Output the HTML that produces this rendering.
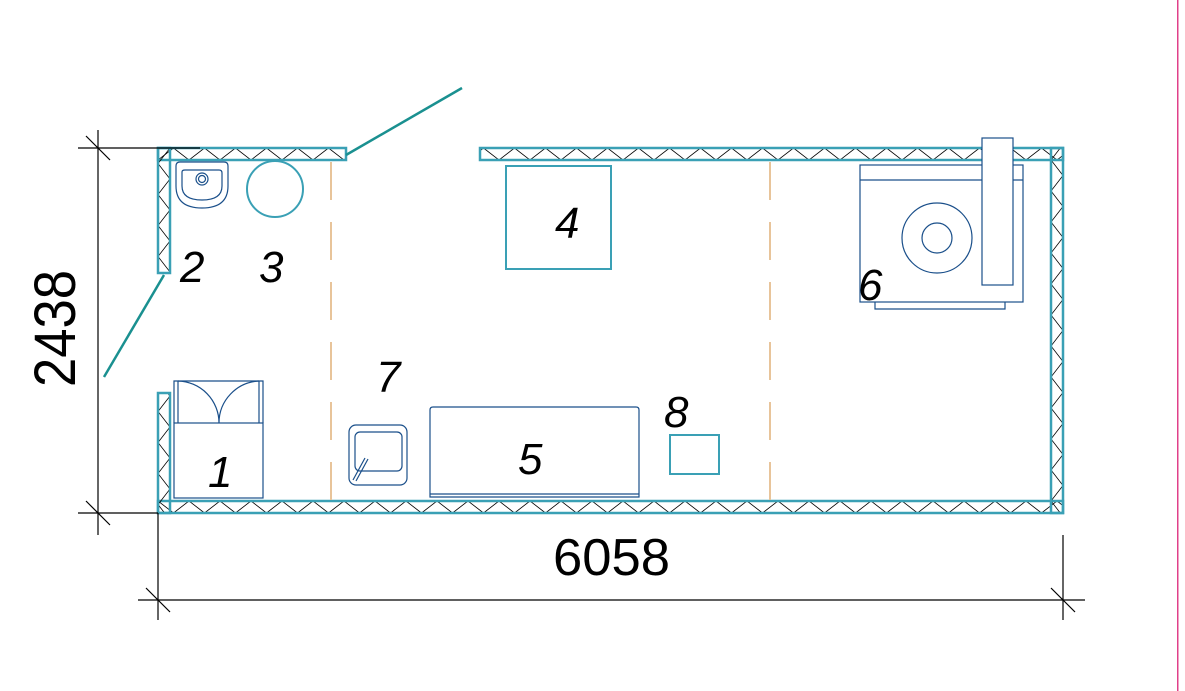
<!DOCTYPE html>
<html><head><meta charset="utf-8"><style>html,body{margin:0;padding:0;background:#fff}svg{display:block}</style></head>
<body>
<svg width="1185" height="691" viewBox="0 0 1185 691" xmlns="http://www.w3.org/2000/svg">
<defs>
<pattern id="zt" x="158" y="148" width="31" height="12" patternUnits="userSpaceOnUse">
<path d="M0 12 L15.5 0 L31 12" fill="none" stroke="#000" stroke-width="0.8"/></pattern>
<pattern id="zb" x="158" y="501" width="31" height="12" patternUnits="userSpaceOnUse">
<path d="M0 0 L15.5 12 L31 0" fill="none" stroke="#000" stroke-width="0.8"/></pattern>
<pattern id="zl" x="158" y="148" width="12" height="31" patternUnits="userSpaceOnUse">
<path d="M12 0 L0 15.5 L12 31" fill="none" stroke="#000" stroke-width="0.8"/></pattern>
<pattern id="zr" x="1051" y="160" width="12" height="31" patternUnits="userSpaceOnUse">
<path d="M0 0 L12 15.5 L0 31" fill="none" stroke="#000" stroke-width="0.8"/></pattern>
</defs>
<rect x="1177" y="0" width="1.5" height="691" fill="#e0408a"/>
<!-- walls -->
<g stroke="#3aa0b5" stroke-width="2.5">
<rect x="158" y="148" width="188" height="12" fill="url(#zt)"/>
<rect x="480" y="148" width="583" height="12" fill="url(#zt)"/>
<rect x="158" y="501" width="905" height="12" fill="url(#zb)"/>
<rect x="158" y="148" width="12" height="125" fill="url(#zl)"/>
<rect x="158" y="393" width="12" height="120" fill="url(#zl)"/>
<rect x="1051" y="148" width="12" height="365" fill="url(#zr)"/>
</g>
<g stroke="#1a9090" stroke-width="2.5">
<line x1="346" y1="155" x2="462" y2="88"/>
<line x1="164" y1="275" x2="104" y2="377"/>
</g>
<!-- dashed -->
<g stroke="#e8c49a" stroke-width="2" stroke-dasharray="38,22">
<line x1="331" y1="162" x2="331" y2="500"/>
<line x1="770" y1="162" x2="770" y2="500"/>
</g>
<!-- dims -->
<g stroke="#000" stroke-width="1.2" fill="none">
<line x1="98" y1="130" x2="98" y2="535"/>
<line x1="78" y1="148" x2="200" y2="148"/>
<line x1="78" y1="513" x2="158" y2="513"/>
<line x1="86" y1="136" x2="110" y2="160"/>
<line x1="86" y1="501" x2="110" y2="525"/>
<line x1="138" y1="600" x2="1085" y2="600"/>
<line x1="158" y1="513" x2="158" y2="620"/>
<line x1="1063" y1="535" x2="1063" y2="620"/>
<line x1="146" y1="588" x2="170" y2="612"/>
<line x1="1051" y1="588" x2="1075" y2="612"/>
</g>
<text x="0" y="0" transform="translate(75,387) rotate(-90)" font-family="Liberation Sans, sans-serif" font-size="58" textLength="117" lengthAdjust="spacingAndGlyphs">2438</text>
<text x="553" y="575" font-family="Liberation Sans, sans-serif" font-size="52" textLength="117" lengthAdjust="spacingAndGlyphs">6058</text>
<!-- furniture -->
<g fill="none" stroke="#1a4f8a" stroke-width="1.2">
<path d="M176 166 Q176 162 180 162 L224 162 Q228 162 228 166 L228 186 Q228 208 202 208 Q176 208 176 186 Z"/>
<path d="M182 172 Q182 170 185 170 L219 170 Q222 170 222 173 L222 186 Q222 200 202 200 Q182 200 182 186 Z"/>
<circle cx="202" cy="179" r="6"/><circle cx="202" cy="179" r="3.5"/>
<rect x="174" y="423" width="89" height="75"/>
<path d="M174 423 V381 H263 V423 M178 381 V423 M259 381 V423"/>
<path d="M178 381 A42 42 0 0 1 219 423 M259 381 A42 42 0 0 0 219 423"/>
<rect x="349" y="425" width="58" height="60" rx="7"/>
<rect x="355" y="432" width="47" height="39" rx="5"/>
<path d="M353 480 L365 458 M356 481 L368 459"/>
<path d="M430 497 V410 Q430 407 433 407 L636 407 Q639 407 639 410 V497 Z M430 494 H639"/>
<rect x="860" y="165" width="163" height="137"/>
<line x1="860" y1="180" x2="1023" y2="180"/>
<circle cx="937" cy="238" r="35"/><circle cx="937" cy="238" r="15"/>
<rect x="982" y="138" width="31" height="147" fill="#fff"/>
<path d="M875 302 V309 H1005 V302"/>
</g>
<g fill="none" stroke="#3aa0b5" stroke-width="2">
<circle cx="275" cy="189" r="28"/>
<rect x="506" y="166" width="105" height="103"/>
<rect x="670" y="435" width="49" height="39"/>
</g>
<g font-family="Liberation Sans, sans-serif" font-style="italic" font-size="44" fill="#000">
<text x="208" y="487">1</text>
<text x="180" y="282">2</text>
<text x="259" y="282">3</text>
<text x="555" y="238">4</text>
<text x="518" y="474">5</text>
<text x="858" y="300">6</text>
<text x="376" y="392">7</text>
<text x="664" y="427">8</text>
</g>
</svg>
</body></html>
